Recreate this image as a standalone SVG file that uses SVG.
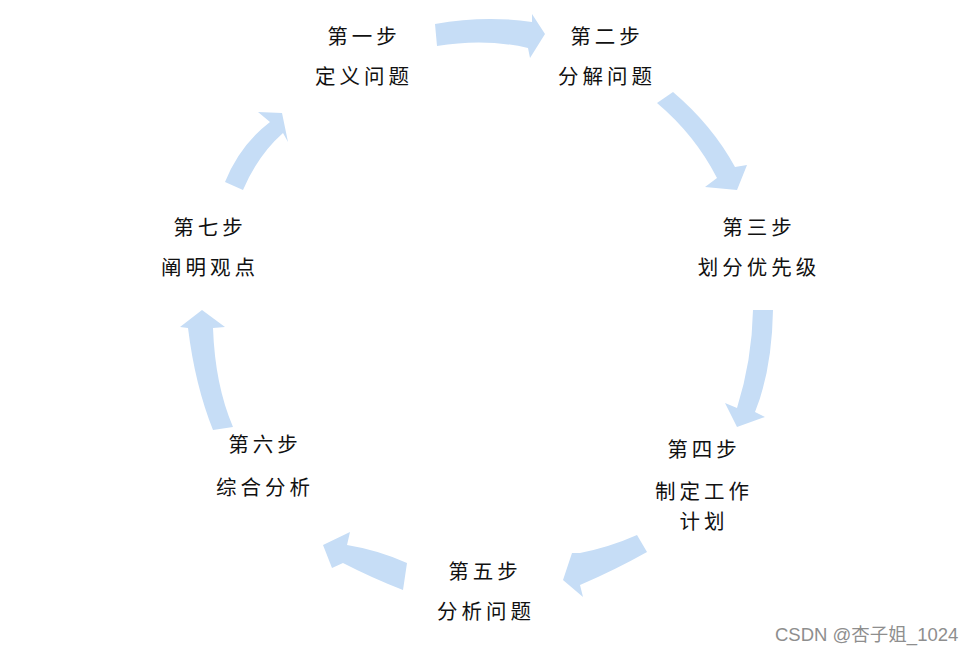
<svg xmlns="http://www.w3.org/2000/svg" width="980" height="653" viewBox="0 0 980 653">
<style>
.arr{fill:#c6ddf6;stroke:none}
.t{font-family:"Noto Sans CJK SC","Noto Sans",sans-serif;font-size:20.5px;letter-spacing:4px;fill:#111;text-anchor:middle}
.wm{font-family:"Liberation Sans","Noto Sans CJK SC",sans-serif;font-size:18.5px;fill:#8e8e8e}
</style>
<rect width="980" height="653" fill="#fff"/>
<g id="connectors">
<path class="arr" d="M435,24 Q485,15 532,22 L532,14 L545,34 L530,58 L528,48 Q485,38 437,46 Z"/>
<path class="arr" d="M673,92 Q712,125 735,167 L747,165 L737,190 L705,187 L717,178 Q695,135 657,103 Z"/>
<path class="arr" d="M753,310 L773,310 Q772,370 755,412 L765,417 L737,427 L725,403 L737,408 Q752,360 753,310 Z"/>
<path class="arr" d="M637,535 L647,552 Q615,570 580,585 L583,597 L563,580 L572,553 L580,553 Q610,547 637,535 Z"/>
<path class="arr" d="M407,563 L403,590 Q372,578 343,563 L332,568 L323,545 L350,532 L347,545 Q378,550 407,563 Z"/>
<path class="arr" d="M233,427 L213,430 Q195,385 188,328 L180,327 L202,310 L225,327 L213,328 Q215,385 233,427 Z"/>
<path class="arr" d="M225,182 L243,190 Q258,155 283,133 L288,142 L282,113 L258,112 L270,122 Q240,145 225,182 Z"/>
</g>
<g id="step1"><text class="t" x="364" y="44">第一步</text><text class="t" x="364" y="84">定义问题</text></g>
<g id="step2"><text class="t" x="607" y="44">第二步</text><text class="t" x="607" y="84">分解问题</text></g>
<g id="step3"><text class="t" x="759" y="235">第三步</text><text class="t" x="759" y="275">划分优先级</text></g>
<g id="step4"><text class="t" x="704" y="457">第四步</text><text class="t" x="704" y="499">制定工作</text><text class="t" x="704" y="529">计划</text></g>
<g id="step5"><text class="t" x="485" y="579">第五步</text><text class="t" x="486" y="619">分析问题</text></g>
<g id="step6"><text class="t" x="265" y="452">第六步</text><text class="t" x="265" y="495">综合分析</text></g>
<g id="step7"><text class="t" x="210" y="235">第七步</text><text class="t" x="210" y="275">阐明观点</text></g>
<text class="wm" x="775" y="641">CSDN @杏子姐_1024</text>
</svg>
